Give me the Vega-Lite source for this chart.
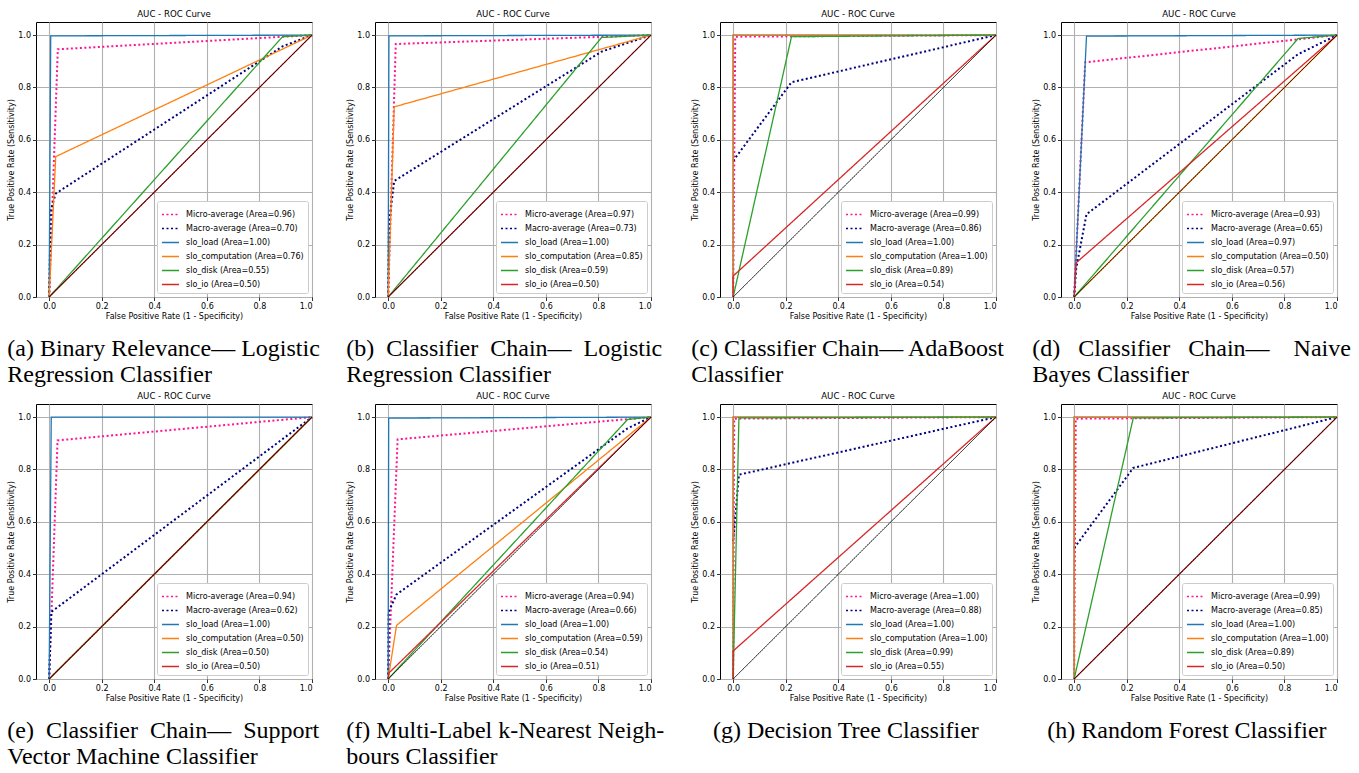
{
  "$schema": "https://vega.github.io/schema/vega-lite/v6.json",
  "background": "white",
  "padding": {"left": 7, "top": 9, "right": 0, "bottom": 0},
  "columns": 4,
  "spacing": {"row": 4, "column": 26},
  "resolve": {
    "scale": {"color": "independent", "strokeDash": "independent"},
    "legend": {"color": "independent", "strokeDash": "independent"}
  },
  "config": {
    "font": "DejaVu Sans",
    "view": {"stroke": "black", "strokeWidth": 1},
    "title": {"font": "DejaVu Sans", "fontSize": 8.6, "fontWeight": "normal", "color": "black", "offset": 3},
    "axis": {
      "labelFont": "DejaVu Sans", "labelFontSize": 8, "labelColor": "black", "labelPadding": 2,
      "titleFont": "DejaVu Sans", "titleFontSize": 8, "titleFontWeight": "normal", "titleColor": "black", "titlePadding": 2,
      "tickColor": "black", "tickSize": 3.5, "tickWidth": 0.8, "domain": false,
      "gridColor": "#b0b0b0", "gridWidth": 1.1,
      "values": [0, 0.2, 0.4, 0.6, 0.8, 1.0], "format": ".1f"
    },
    "range": {"category": ["deeppink", "navy", "#1f77b4", "#ff7f0e", "#2ca02c", "#d62728"]},
    "legend": {
      "orient": "bottom-right", "offset": 4, "padding": 4, "fillColor": "white", "strokeColor": "#cccccc", "cornerRadius": 2,
      "labelFont": "DejaVu Sans", "labelFontSize": 8, "labelColor": "black", "labelLimit": 300,
      "symbolType": "stroke", "symbolSize": 289, "symbolStrokeWidth": 1.5, "rowPadding": 0, "labelOffset": 6
    }
  },
  "concat": [
    {
      "title": {"text": ["(a) Binary Relevance— Logistic", "Regression Classifier"], "orient": "bottom", "anchor": "start", "font": "Liberation Serif", "fontSize": 24, "lineHeight": 26, "offset": 16, "fontWeight": "normal", "color": "black"},
      "resolve": {"scale": {"color": "independent", "strokeDash": "independent"}},
      "vconcat": [{
        "width": 276, "height": 275, "title": "AUC - ROC Curve",
        "encoding": {
          "x": {"field": "fpr", "type": "quantitative", "scale": {"domain": [-0.05, 1.0], "nice": false, "zero": false}, "axis": {"title": "False Positive Rate (1 - Specificity)"}},
          "y": {"field": "tpr", "type": "quantitative", "scale": {"domain": [0, 1.05], "nice": false}, "axis": {"title": "True Positive Rate (Sensitivity)"}},
          "color": {"field": "series", "type": "nominal", "legend": {"title": null}, "scale": {"domain": ["Micro-average (Area=0.96)", "Macro-average (Area=0.70)", "slo_load (Area=1.00)", "slo_computation (Area=0.76)", "slo_disk (Area=0.55)", "slo_io (Area=0.50)"]}},
          "strokeDash": {"field": "series", "type": "nominal", "legend": {"title": null}, "scale": {"domain": ["Micro-average (Area=0.96)", "Macro-average (Area=0.70)", "slo_load (Area=1.00)", "slo_computation (Area=0.76)", "slo_disk (Area=0.55)", "slo_io (Area=0.50)"], "range": [[2, 2.5], [2, 2.5], [1, 0], [1, 0], [1, 0], [1, 0]]}}
        },
        "layer": [
          {"data": {"values": [
            {"series": "Micro-average (Area=0.96)", "fpr": 0, "tpr": 0}, {"series": "Micro-average (Area=0.96)", "fpr": 0.033, "tpr": 0.946}, {"series": "Micro-average (Area=0.96)", "fpr": 1, "tpr": 1},
            {"series": "Macro-average (Area=0.70)", "fpr": 0, "tpr": 0}, {"series": "Macro-average (Area=0.70)", "fpr": 0.006, "tpr": 0.33}, {"series": "Macro-average (Area=0.70)", "fpr": 0.025, "tpr": 0.395}, {"series": "Macro-average (Area=0.70)", "fpr": 0.888, "tpr": 0.957}, {"series": "Macro-average (Area=0.70)", "fpr": 1, "tpr": 1}
          ]}, "mark": {"type": "line", "strokeWidth": 2}},
          {"data": {"values": [
            {"series": "slo_load (Area=1.00)", "fpr": 0, "tpr": 0}, {"series": "slo_load (Area=1.00)", "fpr": 0.006, "tpr": 0.997}, {"series": "slo_load (Area=1.00)", "fpr": 1, "tpr": 1},
            {"series": "slo_computation (Area=0.76)", "fpr": 0, "tpr": 0}, {"series": "slo_computation (Area=0.76)", "fpr": 0.025, "tpr": 0.536}, {"series": "slo_computation (Area=0.76)", "fpr": 1, "tpr": 1},
            {"series": "slo_disk (Area=0.55)", "fpr": 0, "tpr": 0}, {"series": "slo_disk (Area=0.55)", "fpr": 0.888, "tpr": 0.994}, {"series": "slo_disk (Area=0.55)", "fpr": 1, "tpr": 1},
            {"series": "slo_io (Area=0.50)", "fpr": 0, "tpr": 0}, {"series": "slo_io (Area=0.50)", "fpr": 1, "tpr": 1}
          ]}, "mark": {"type": "line", "strokeWidth": 1.3}},
          {"data": {"values": [{"fpr": 0, "tpr": 0}, {"fpr": 1, "tpr": 1}]}, "mark": {"type": "line", "strokeWidth": 0.9}, "encoding": {"color": {"value": "black"}, "strokeDash": {"value": [1, 0]}}}
        ]
      }]
    },
    {
      "title": {"text": ["(b) \u00a0Classifier \u00a0Chain— \u00a0Logistic", "Regression Classifier"], "orient": "bottom", "anchor": "start", "font": "Liberation Serif", "fontSize": 24, "lineHeight": 26, "offset": 16, "fontWeight": "normal", "color": "black"},
      "resolve": {"scale": {"color": "independent", "strokeDash": "independent"}},
      "vconcat": [{
        "width": 276, "height": 275, "title": "AUC - ROC Curve",
        "encoding": {
          "x": {"field": "fpr", "type": "quantitative", "scale": {"domain": [-0.05, 1.0], "nice": false, "zero": false}, "axis": {"title": "False Positive Rate (1 - Specificity)"}},
          "y": {"field": "tpr", "type": "quantitative", "scale": {"domain": [0, 1.05], "nice": false}, "axis": {"title": "True Positive Rate (Sensitivity)"}},
          "color": {"field": "series", "type": "nominal", "legend": {"title": null}, "scale": {"domain": ["Micro-average (Area=0.97)", "Macro-average (Area=0.73)", "slo_load (Area=1.00)", "slo_computation (Area=0.85)", "slo_disk (Area=0.59)", "slo_io (Area=0.50)"]}},
          "strokeDash": {"field": "series", "type": "nominal", "legend": {"title": null}, "scale": {"domain": ["Micro-average (Area=0.97)", "Macro-average (Area=0.73)", "slo_load (Area=1.00)", "slo_computation (Area=0.85)", "slo_disk (Area=0.59)", "slo_io (Area=0.50)"], "range": [[2, 2.5], [2, 2.5], [1, 0], [1, 0], [1, 0], [1, 0]]}}
        },
        "layer": [
          {"data": {"values": [
            {"series": "Micro-average (Area=0.97)", "fpr": 0, "tpr": 0}, {"series": "Micro-average (Area=0.97)", "fpr": 0.029, "tpr": 0.966}, {"series": "Micro-average (Area=0.97)", "fpr": 1, "tpr": 1},
            {"series": "Macro-average (Area=0.73)", "fpr": 0, "tpr": 0}, {"series": "Macro-average (Area=0.73)", "fpr": 0.003, "tpr": 0.275}, {"series": "Macro-average (Area=0.73)", "fpr": 0.023, "tpr": 0.443}, {"series": "Macro-average (Area=0.73)", "fpr": 0.812, "tpr": 0.937}, {"series": "Macro-average (Area=0.73)", "fpr": 1, "tpr": 1}
          ]}, "mark": {"type": "line", "strokeWidth": 2}},
          {"data": {"values": [
            {"series": "slo_load (Area=1.00)", "fpr": 0, "tpr": 0}, {"series": "slo_load (Area=1.00)", "fpr": 0.003, "tpr": 0.997}, {"series": "slo_load (Area=1.00)", "fpr": 1, "tpr": 1},
            {"series": "slo_computation (Area=0.85)", "fpr": 0, "tpr": 0}, {"series": "slo_computation (Area=0.85)", "fpr": 0.023, "tpr": 0.726}, {"series": "slo_computation (Area=0.85)", "fpr": 1, "tpr": 1},
            {"series": "slo_disk (Area=0.59)", "fpr": 0, "tpr": 0}, {"series": "slo_disk (Area=0.59)", "fpr": 0.812, "tpr": 0.991}, {"series": "slo_disk (Area=0.59)", "fpr": 1, "tpr": 1},
            {"series": "slo_io (Area=0.50)", "fpr": 0, "tpr": 0}, {"series": "slo_io (Area=0.50)", "fpr": 1, "tpr": 1}
          ]}, "mark": {"type": "line", "strokeWidth": 1.3}},
          {"data": {"values": [{"fpr": 0, "tpr": 0}, {"fpr": 1, "tpr": 1}]}, "mark": {"type": "line", "strokeWidth": 0.9}, "encoding": {"color": {"value": "black"}, "strokeDash": {"value": [1, 0]}}}
        ]
      }]
    },
    {
      "title": {"text": ["(c) Classifier Chain— AdaBoost", "Classifier"], "orient": "bottom", "anchor": "start", "font": "Liberation Serif", "fontSize": 24, "lineHeight": 26, "offset": 16, "fontWeight": "normal", "color": "black"},
      "resolve": {"scale": {"color": "independent", "strokeDash": "independent"}},
      "vconcat": [{
        "width": 276, "height": 275, "title": "AUC - ROC Curve",
        "encoding": {
          "x": {"field": "fpr", "type": "quantitative", "scale": {"domain": [-0.05, 1.0], "nice": false, "zero": false}, "axis": {"title": "False Positive Rate (1 - Specificity)"}},
          "y": {"field": "tpr", "type": "quantitative", "scale": {"domain": [0, 1.05], "nice": false}, "axis": {"title": "True Positive Rate (Sensitivity)"}},
          "color": {"field": "series", "type": "nominal", "legend": {"title": null}, "scale": {"domain": ["Micro-average (Area=0.99)", "Macro-average (Area=0.86)", "slo_load (Area=1.00)", "slo_computation (Area=1.00)", "slo_disk (Area=0.89)", "slo_io (Area=0.54)"]}},
          "strokeDash": {"field": "series", "type": "nominal", "legend": {"title": null}, "scale": {"domain": ["Micro-average (Area=0.99)", "Macro-average (Area=0.86)", "slo_load (Area=1.00)", "slo_computation (Area=1.00)", "slo_disk (Area=0.89)", "slo_io (Area=0.54)"], "range": [[2, 2.5], [2, 2.5], [1, 0], [1, 0], [1, 0], [1, 0]]}}
        },
        "layer": [
          {"data": {"values": [
            {"series": "Micro-average (Area=0.99)", "fpr": 0, "tpr": 0}, {"series": "Micro-average (Area=0.99)", "fpr": 0.008, "tpr": 0.994}, {"series": "Micro-average (Area=0.99)", "fpr": 1, "tpr": 1},
            {"series": "Macro-average (Area=0.86)", "fpr": 0, "tpr": 0.52}, {"series": "Macro-average (Area=0.86)", "fpr": 0.222, "tpr": 0.82}, {"series": "Macro-average (Area=0.86)", "fpr": 1, "tpr": 1}
          ]}, "mark": {"type": "line", "strokeWidth": 2}},
          {"data": {"values": [
            {"series": "slo_load (Area=1.00)", "fpr": 0, "tpr": 0}, {"series": "slo_load (Area=1.00)", "fpr": 0, "tpr": 1}, {"series": "slo_load (Area=1.00)", "fpr": 1, "tpr": 1},
            {"series": "slo_computation (Area=1.00)", "fpr": 0, "tpr": 0}, {"series": "slo_computation (Area=1.00)", "fpr": 0, "tpr": 1}, {"series": "slo_computation (Area=1.00)", "fpr": 1, "tpr": 1},
            {"series": "slo_disk (Area=0.89)", "fpr": 0, "tpr": 0}, {"series": "slo_disk (Area=0.89)", "fpr": 0.222, "tpr": 0.994}, {"series": "slo_disk (Area=0.89)", "fpr": 1, "tpr": 1},
            {"series": "slo_io (Area=0.54)", "fpr": 0, "tpr": 0}, {"series": "slo_io (Area=0.54)", "fpr": 0, "tpr": 0.08}, {"series": "slo_io (Area=0.54)", "fpr": 1, "tpr": 1}
          ]}, "mark": {"type": "line", "strokeWidth": 1.3}},
          {"data": {"values": [{"fpr": 0, "tpr": 0}, {"fpr": 1, "tpr": 1}]}, "mark": {"type": "line", "strokeWidth": 0.9}, "encoding": {"color": {"value": "black"}, "strokeDash": {"value": [1, 0]}}}
        ]
      }]
    },
    {
      "title": {"text": ["(d) \u00a0\u00a0Classifier \u00a0\u00a0Chain— \u00a0\u00a0\u00a0Naive", "Bayes Classifier"], "orient": "bottom", "anchor": "start", "font": "Liberation Serif", "fontSize": 24, "lineHeight": 26, "offset": 16, "fontWeight": "normal", "color": "black"},
      "resolve": {"scale": {"color": "independent", "strokeDash": "independent"}},
      "vconcat": [{
        "width": 276, "height": 275, "title": "AUC - ROC Curve",
        "encoding": {
          "x": {"field": "fpr", "type": "quantitative", "scale": {"domain": [-0.05, 1.0], "nice": false, "zero": false}, "axis": {"title": "False Positive Rate (1 - Specificity)"}},
          "y": {"field": "tpr", "type": "quantitative", "scale": {"domain": [0, 1.05], "nice": false}, "axis": {"title": "True Positive Rate (Sensitivity)"}},
          "color": {"field": "series", "type": "nominal", "legend": {"title": null}, "scale": {"domain": ["Micro-average (Area=0.93)", "Macro-average (Area=0.65)", "slo_load (Area=0.97)", "slo_computation (Area=0.50)", "slo_disk (Area=0.57)", "slo_io (Area=0.56)"]}},
          "strokeDash": {"field": "series", "type": "nominal", "legend": {"title": null}, "scale": {"domain": ["Micro-average (Area=0.93)", "Macro-average (Area=0.65)", "slo_load (Area=0.97)", "slo_computation (Area=0.50)", "slo_disk (Area=0.57)", "slo_io (Area=0.56)"], "range": [[2, 2.5], [2, 2.5], [1, 0], [1, 0], [1, 0], [1, 0]]}}
        },
        "layer": [
          {"data": {"values": [
            {"series": "Micro-average (Area=0.93)", "fpr": 0, "tpr": 0}, {"series": "Micro-average (Area=0.93)", "fpr": 0.042, "tpr": 0.896}, {"series": "Micro-average (Area=0.93)", "fpr": 1, "tpr": 1},
            {"series": "Macro-average (Area=0.65)", "fpr": 0, "tpr": 0}, {"series": "Macro-average (Area=0.65)", "fpr": 0.008, "tpr": 0.11}, {"series": "Macro-average (Area=0.65)", "fpr": 0.047, "tpr": 0.316}, {"series": "Macro-average (Area=0.65)", "fpr": 0.852, "tpr": 0.927}, {"series": "Macro-average (Area=0.65)", "fpr": 1, "tpr": 1}
          ]}, "mark": {"type": "line", "strokeWidth": 2}},
          {"data": {"values": [
            {"series": "slo_load (Area=0.97)", "fpr": 0, "tpr": 0}, {"series": "slo_load (Area=0.97)", "fpr": 0.047, "tpr": 0.996}, {"series": "slo_load (Area=0.97)", "fpr": 1, "tpr": 1},
            {"series": "slo_computation (Area=0.50)", "fpr": 0, "tpr": 0}, {"series": "slo_computation (Area=0.50)", "fpr": 1, "tpr": 1},
            {"series": "slo_disk (Area=0.57)", "fpr": 0, "tpr": 0}, {"series": "slo_disk (Area=0.57)", "fpr": 0.852, "tpr": 0.987}, {"series": "slo_disk (Area=0.57)", "fpr": 1, "tpr": 1},
            {"series": "slo_io (Area=0.56)", "fpr": 0, "tpr": 0}, {"series": "slo_io (Area=0.56)", "fpr": 0.008, "tpr": 0.131}, {"series": "slo_io (Area=0.56)", "fpr": 1, "tpr": 1}
          ]}, "mark": {"type": "line", "strokeWidth": 1.3}},
          {"data": {"values": [{"fpr": 0, "tpr": 0}, {"fpr": 1, "tpr": 1}]}, "mark": {"type": "line", "strokeWidth": 0.9}, "encoding": {"color": {"value": "black"}, "strokeDash": {"value": [1, 0]}}}
        ]
      }]
    },
    {
      "title": {"text": ["(e) \u00a0Classifier \u00a0Chain— \u00a0Support", "Vector Machine Classifier"], "orient": "bottom", "anchor": "start", "font": "Liberation Serif", "fontSize": 24, "lineHeight": 26, "offset": 16, "fontWeight": "normal", "color": "black"},
      "resolve": {"scale": {"color": "independent", "strokeDash": "independent"}},
      "vconcat": [{
        "width": 276, "height": 275, "title": "AUC - ROC Curve",
        "encoding": {
          "x": {"field": "fpr", "type": "quantitative", "scale": {"domain": [-0.05, 1.0], "nice": false, "zero": false}, "axis": {"title": "False Positive Rate (1 - Specificity)"}},
          "y": {"field": "tpr", "type": "quantitative", "scale": {"domain": [0, 1.05], "nice": false}, "axis": {"title": "True Positive Rate (Sensitivity)"}},
          "color": {"field": "series", "type": "nominal", "legend": {"title": null}, "scale": {"domain": ["Micro-average (Area=0.94)", "Macro-average (Area=0.62)", "slo_load (Area=1.00)", "slo_computation (Area=0.50)", "slo_disk (Area=0.50)", "slo_io (Area=0.50)"]}},
          "strokeDash": {"field": "series", "type": "nominal", "legend": {"title": null}, "scale": {"domain": ["Micro-average (Area=0.94)", "Macro-average (Area=0.62)", "slo_load (Area=1.00)", "slo_computation (Area=0.50)", "slo_disk (Area=0.50)", "slo_io (Area=0.50)"], "range": [[2, 2.5], [2, 2.5], [1, 0], [1, 0], [1, 0], [1, 0]]}}
        },
        "layer": [
          {"data": {"values": [
            {"series": "Micro-average (Area=0.94)", "fpr": 0, "tpr": 0}, {"series": "Micro-average (Area=0.94)", "fpr": 0.032, "tpr": 0.911}, {"series": "Micro-average (Area=0.94)", "fpr": 1, "tpr": 1},
            {"series": "Macro-average (Area=0.62)", "fpr": 0, "tpr": 0}, {"series": "Macro-average (Area=0.62)", "fpr": 0.008, "tpr": 0.256}, {"series": "Macro-average (Area=0.62)", "fpr": 1, "tpr": 1}
          ]}, "mark": {"type": "line", "strokeWidth": 2}},
          {"data": {"values": [
            {"series": "slo_load (Area=1.00)", "fpr": 0, "tpr": 0}, {"series": "slo_load (Area=1.00)", "fpr": 0.008, "tpr": 1}, {"series": "slo_load (Area=1.00)", "fpr": 1, "tpr": 1},
            {"series": "slo_computation (Area=0.50)", "fpr": 0, "tpr": 0}, {"series": "slo_computation (Area=0.50)", "fpr": 1, "tpr": 1},
            {"series": "slo_disk (Area=0.50)", "fpr": 0, "tpr": 0}, {"series": "slo_disk (Area=0.50)", "fpr": 1, "tpr": 1},
            {"series": "slo_io (Area=0.50)", "fpr": 0, "tpr": 0}, {"series": "slo_io (Area=0.50)", "fpr": 1, "tpr": 1}
          ]}, "mark": {"type": "line", "strokeWidth": 1.3}},
          {"data": {"values": [{"fpr": 0, "tpr": 0}, {"fpr": 1, "tpr": 1}]}, "mark": {"type": "line", "strokeWidth": 0.9}, "encoding": {"color": {"value": "black"}, "strokeDash": {"value": [1, 0]}}}
        ]
      }]
    },
    {
      "title": {"text": ["(f) Multi-Label k-Nearest Neigh-", "bours Classifier"], "orient": "bottom", "anchor": "start", "font": "Liberation Serif", "fontSize": 24, "lineHeight": 26, "offset": 16, "fontWeight": "normal", "color": "black"},
      "resolve": {"scale": {"color": "independent", "strokeDash": "independent"}},
      "vconcat": [{
        "width": 276, "height": 275, "title": "AUC - ROC Curve",
        "encoding": {
          "x": {"field": "fpr", "type": "quantitative", "scale": {"domain": [-0.05, 1.0], "nice": false, "zero": false}, "axis": {"title": "False Positive Rate (1 - Specificity)"}},
          "y": {"field": "tpr", "type": "quantitative", "scale": {"domain": [0, 1.05], "nice": false}, "axis": {"title": "True Positive Rate (Sensitivity)"}},
          "color": {"field": "series", "type": "nominal", "legend": {"title": null}, "scale": {"domain": ["Micro-average (Area=0.94)", "Macro-average (Area=0.66)", "slo_load (Area=1.00)", "slo_computation (Area=0.59)", "slo_disk (Area=0.54)", "slo_io (Area=0.51)"]}},
          "strokeDash": {"field": "series", "type": "nominal", "legend": {"title": null}, "scale": {"domain": ["Micro-average (Area=0.94)", "Macro-average (Area=0.66)", "slo_load (Area=1.00)", "slo_computation (Area=0.59)", "slo_disk (Area=0.54)", "slo_io (Area=0.51)"], "range": [[2, 2.5], [2, 2.5], [1, 0], [1, 0], [1, 0], [1, 0]]}}
        },
        "layer": [
          {"data": {"values": [
            {"series": "Micro-average (Area=0.94)", "fpr": 0, "tpr": 0}, {"series": "Micro-average (Area=0.94)", "fpr": 0.036, "tpr": 0.915}, {"series": "Micro-average (Area=0.94)", "fpr": 1, "tpr": 1},
            {"series": "Macro-average (Area=0.66)", "fpr": 0, "tpr": 0}, {"series": "Macro-average (Area=0.66)", "fpr": 0.002, "tpr": 0.257}, {"series": "Macro-average (Area=0.66)", "fpr": 0.032, "tpr": 0.323}, {"series": "Macro-average (Area=0.66)", "fpr": 0.911, "tpr": 0.957}, {"series": "Macro-average (Area=0.66)", "fpr": 1, "tpr": 1}
          ]}, "mark": {"type": "line", "strokeWidth": 2}},
          {"data": {"values": [
            {"series": "slo_load (Area=1.00)", "fpr": 0, "tpr": 0}, {"series": "slo_load (Area=1.00)", "fpr": 0.002, "tpr": 0.996}, {"series": "slo_load (Area=1.00)", "fpr": 1, "tpr": 1},
            {"series": "slo_computation (Area=0.59)", "fpr": 0, "tpr": 0}, {"series": "slo_computation (Area=0.59)", "fpr": 0.032, "tpr": 0.205}, {"series": "slo_computation (Area=0.59)", "fpr": 1, "tpr": 1},
            {"series": "slo_disk (Area=0.54)", "fpr": 0, "tpr": 0}, {"series": "slo_disk (Area=0.54)", "fpr": 0.911, "tpr": 0.991}, {"series": "slo_disk (Area=0.54)", "fpr": 1, "tpr": 1},
            {"series": "slo_io (Area=0.51)", "fpr": 0, "tpr": 0}, {"series": "slo_io (Area=0.51)", "fpr": 0.003, "tpr": 0.023}, {"series": "slo_io (Area=0.51)", "fpr": 1, "tpr": 1}
          ]}, "mark": {"type": "line", "strokeWidth": 1.3}},
          {"data": {"values": [{"fpr": 0, "tpr": 0}, {"fpr": 1, "tpr": 1}]}, "mark": {"type": "line", "strokeWidth": 0.9}, "encoding": {"color": {"value": "black"}, "strokeDash": {"value": [1, 0]}}}
        ]
      }]
    },
    {
      "title": {"text": ["(g) Decision Tree Classifier"], "orient": "bottom", "anchor": "middle", "font": "Liberation Serif", "fontSize": 24, "lineHeight": 26, "offset": 16, "fontWeight": "normal", "color": "black"},
      "resolve": {"scale": {"color": "independent", "strokeDash": "independent"}},
      "vconcat": [{
        "width": 276, "height": 275, "title": "AUC - ROC Curve",
        "encoding": {
          "x": {"field": "fpr", "type": "quantitative", "scale": {"domain": [-0.05, 1.0], "nice": false, "zero": false}, "axis": {"title": "False Positive Rate (1 - Specificity)"}},
          "y": {"field": "tpr", "type": "quantitative", "scale": {"domain": [0, 1.05], "nice": false}, "axis": {"title": "True Positive Rate (Sensitivity)"}},
          "color": {"field": "series", "type": "nominal", "legend": {"title": null}, "scale": {"domain": ["Micro-average (Area=1.00)", "Macro-average (Area=0.88)", "slo_load (Area=1.00)", "slo_computation (Area=1.00)", "slo_disk (Area=0.99)", "slo_io (Area=0.55)"]}},
          "strokeDash": {"field": "series", "type": "nominal", "legend": {"title": null}, "scale": {"domain": ["Micro-average (Area=1.00)", "Macro-average (Area=0.88)", "slo_load (Area=1.00)", "slo_computation (Area=1.00)", "slo_disk (Area=0.99)", "slo_io (Area=0.55)"], "range": [[2, 2.5], [2, 2.5], [1, 0], [1, 0], [1, 0], [1, 0]]}}
        },
        "layer": [
          {"data": {"values": [
            {"series": "Micro-average (Area=1.00)", "fpr": 0, "tpr": 0}, {"series": "Micro-average (Area=1.00)", "fpr": 0.004, "tpr": 0.994}, {"series": "Micro-average (Area=1.00)", "fpr": 1, "tpr": 1},
            {"series": "Macro-average (Area=0.88)", "fpr": 0, "tpr": 0.526}, {"series": "Macro-average (Area=0.88)", "fpr": 0.022, "tpr": 0.78}, {"series": "Macro-average (Area=0.88)", "fpr": 1, "tpr": 1}
          ]}, "mark": {"type": "line", "strokeWidth": 2}},
          {"data": {"values": [
            {"series": "slo_load (Area=1.00)", "fpr": 0, "tpr": 0}, {"series": "slo_load (Area=1.00)", "fpr": 0, "tpr": 1}, {"series": "slo_load (Area=1.00)", "fpr": 1, "tpr": 1},
            {"series": "slo_computation (Area=1.00)", "fpr": 0, "tpr": 0}, {"series": "slo_computation (Area=1.00)", "fpr": 0, "tpr": 1}, {"series": "slo_computation (Area=1.00)", "fpr": 1, "tpr": 1},
            {"series": "slo_disk (Area=0.99)", "fpr": 0, "tpr": 0}, {"series": "slo_disk (Area=0.99)", "fpr": 0.022, "tpr": 0.997}, {"series": "slo_disk (Area=0.99)", "fpr": 1, "tpr": 1},
            {"series": "slo_io (Area=0.55)", "fpr": 0, "tpr": 0}, {"series": "slo_io (Area=0.55)", "fpr": 0, "tpr": 0.107}, {"series": "slo_io (Area=0.55)", "fpr": 1, "tpr": 1}
          ]}, "mark": {"type": "line", "strokeWidth": 1.3}},
          {"data": {"values": [{"fpr": 0, "tpr": 0}, {"fpr": 1, "tpr": 1}]}, "mark": {"type": "line", "strokeWidth": 0.9}, "encoding": {"color": {"value": "black"}, "strokeDash": {"value": [1, 0]}}}
        ]
      }]
    },
    {
      "title": {"text": ["(h) Random Forest Classifier"], "orient": "bottom", "anchor": "middle", "font": "Liberation Serif", "fontSize": 24, "lineHeight": 26, "offset": 16, "fontWeight": "normal", "color": "black"},
      "resolve": {"scale": {"color": "independent", "strokeDash": "independent"}},
      "vconcat": [{
        "width": 276, "height": 275, "title": "AUC - ROC Curve",
        "encoding": {
          "x": {"field": "fpr", "type": "quantitative", "scale": {"domain": [-0.05, 1.0], "nice": false, "zero": false}, "axis": {"title": "False Positive Rate (1 - Specificity)"}},
          "y": {"field": "tpr", "type": "quantitative", "scale": {"domain": [0, 1.05], "nice": false}, "axis": {"title": "True Positive Rate (Sensitivity)"}},
          "color": {"field": "series", "type": "nominal", "legend": {"title": null}, "scale": {"domain": ["Micro-average (Area=0.99)", "Macro-average (Area=0.85)", "slo_load (Area=1.00)", "slo_computation (Area=1.00)", "slo_disk (Area=0.89)", "slo_io (Area=0.50)"]}},
          "strokeDash": {"field": "series", "type": "nominal", "legend": {"title": null}, "scale": {"domain": ["Micro-average (Area=0.99)", "Macro-average (Area=0.85)", "slo_load (Area=1.00)", "slo_computation (Area=1.00)", "slo_disk (Area=0.89)", "slo_io (Area=0.50)"], "range": [[2, 2.5], [2, 2.5], [1, 0], [1, 0], [1, 0], [1, 0]]}}
        },
        "layer": [
          {"data": {"values": [
            {"series": "Micro-average (Area=0.99)", "fpr": 0, "tpr": 0}, {"series": "Micro-average (Area=0.99)", "fpr": 0.006, "tpr": 0.994}, {"series": "Micro-average (Area=0.99)", "fpr": 1, "tpr": 1},
            {"series": "Macro-average (Area=0.85)", "fpr": 0, "tpr": 0.5}, {"series": "Macro-average (Area=0.85)", "fpr": 0.225, "tpr": 0.806}, {"series": "Macro-average (Area=0.85)", "fpr": 1, "tpr": 1}
          ]}, "mark": {"type": "line", "strokeWidth": 2}},
          {"data": {"values": [
            {"series": "slo_load (Area=1.00)", "fpr": 0, "tpr": 0}, {"series": "slo_load (Area=1.00)", "fpr": 0, "tpr": 1}, {"series": "slo_load (Area=1.00)", "fpr": 1, "tpr": 1},
            {"series": "slo_computation (Area=1.00)", "fpr": 0, "tpr": 0}, {"series": "slo_computation (Area=1.00)", "fpr": 0, "tpr": 1}, {"series": "slo_computation (Area=1.00)", "fpr": 1, "tpr": 1},
            {"series": "slo_disk (Area=0.89)", "fpr": 0, "tpr": 0}, {"series": "slo_disk (Area=0.89)", "fpr": 0.225, "tpr": 0.997}, {"series": "slo_disk (Area=0.89)", "fpr": 1, "tpr": 1},
            {"series": "slo_io (Area=0.50)", "fpr": 0, "tpr": 0}, {"series": "slo_io (Area=0.50)", "fpr": 1, "tpr": 1}
          ]}, "mark": {"type": "line", "strokeWidth": 1.3}},
          {"data": {"values": [{"fpr": 0, "tpr": 0}, {"fpr": 1, "tpr": 1}]}, "mark": {"type": "line", "strokeWidth": 0.9}, "encoding": {"color": {"value": "black"}, "strokeDash": {"value": [1, 0]}}}
        ]
      }]
    }
  ]
}
